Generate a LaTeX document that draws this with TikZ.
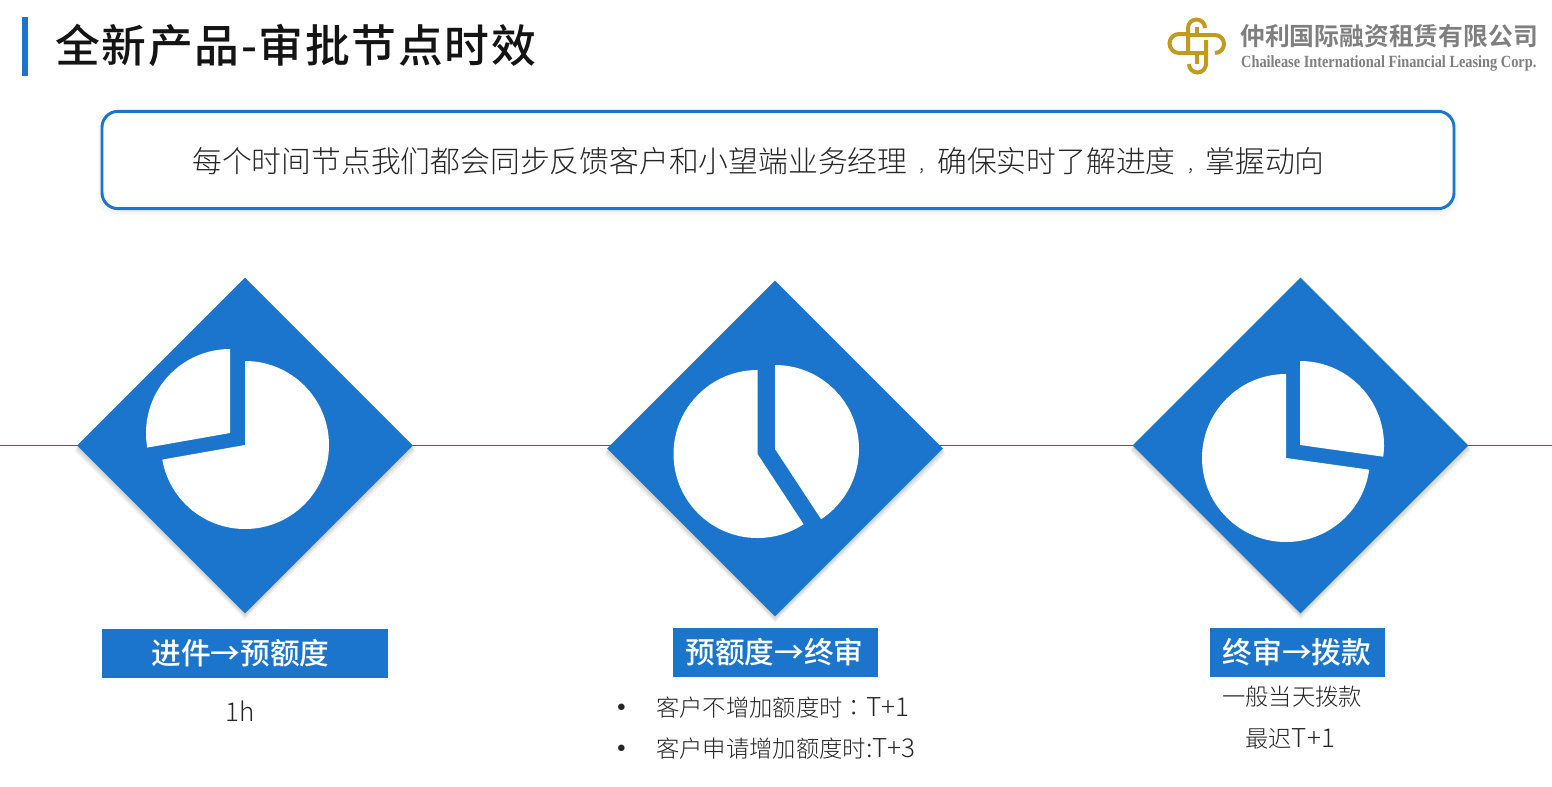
\documentclass[tikz,border=0pt]{standalone}
\usepackage{fontspec}
\setmainfont{Noto Sans CJK SC}
\newfontfamily\lightf{Noto Sans CJK SC Light}
\newfontfamily\lighttc{Noto Sans CJK TC Light}
\newfontfamily\boldf{Noto Sans CJK SC Bold}
\newfontfamily\medf{Noto Sans CJK SC Medium}
\newfontfamily\titlef[LetterSpace=3.7]{Noto Sans CJK SC Medium}
\newfontfamily\serifn{Liberation Serif}
\definecolor{cblue}{HTML}{1C75CD}
\definecolor{cline}{HTML}{1C68C0}
\definecolor{cgold}{HTML}{C19A1E}
\definecolor{cgray}{HTML}{7F7F7F}
\definecolor{cink}{HTML}{262626}
\newcommand{\lat}[1]{{\fontsize{19.5pt}{22pt}\selectfont #1}}
\newcommand{\fwcomma}{\makebox[1em][c]{\raisebox{1.5pt}{\fontsize{15pt}{15pt}\selectfont ,}}}
\newcommand{\fwcolon}{{\lighttc\symbol{"FF1A}}}
\tikzset{
  px/.style={x=0.75pt,y=-0.75pt},
  bluefill/.style={fill=cblue,draw=none},
  pie/.style={fill=white,draw=none},
  flowline/.style={draw=cline,line width=1pt},
  labbox/.style={fill=cblue,inner sep=0pt,anchor=center,minimum height=37pt},
  lab/.style={text=white,inner sep=0pt,font=\medf\fontsize{22.3pt}{26pt}\selectfont,anchor=center},
  body/.style={inner sep=0pt,text=cink,font=\lightf\fontsize{17.5pt}{22pt}\selectfont},
  hook/.style={draw=cgold,line width=3pt},
}
\newcommand{\diam}[3]{%
  \foreach \s in {1,...,6}{
    \fill[black,opacity=0.03] (#1,#2-168+\s) -- (#1+168+\s*0.4,#2+\s) -- (#1,#2+168+\s) -- (#1-168-\s*0.4,#2+\s) -- cycle;
  }
  \node[bluefill,diamond,minimum width=252pt,minimum height=252pt,inner sep=0pt] (#3) at (#1,#2) {};
}
\usetikzlibrary{shapes.geometric}
\begin{document}
\begin{tikzpicture}[px]
\useasboundingbox (0,0) rectangle (1552,786);
\fill[white] (0,0) rectangle (1552,786);
% title
\fill[cblue] (22,17) rectangle (28,76);
\node[anchor=base west,inner sep=0pt,text=black!92] (title) at (55,62) {\titlef\fontsize{33.6pt}{36pt}\selectfont 全新产品-审批节点时效};
% logo
\draw[hook] (1205,28) arc (0:-180:8.5) -- (1188,52);
\draw[hook] (1189,64) arc (-180:-360:8.5) -- (1206,40);
\draw[hook] (1190,35) -- (1215,35) arc (-90:90:9) ;
\draw[hook] (1204,53) -- (1179,53) arc (90:270:9.5) -- (1186,34);
\draw[hook] (1197,27) -- (1197,35);
\draw[hook] (1197,53) -- (1197,64);
\node[anchor=base west,inner sep=0pt,text=cgray] (logocn) at (1240,45) {\boldf\fontsize{18.6pt}{20pt}\selectfont 仲利国际融资租赁有限公司};
\node[anchor=base west,inner sep=0pt,text=cgray,xscale=0.84] (logoen) at (1241,67) {\serifn\bfseries\fontsize{12.8pt}{14pt}\selectfont Chailease International Financial Leasing Corp.};
% banner
\foreach \s in {1,...,5}{
  \fill[black,opacity=0.012,rounded corners=14pt] (102-\s,111-\s+3) rectangle (1454+\s,208+\s+3);
}
\node[draw=cblue,line width=2.2pt,fill=white,rounded corners=12pt,minimum width=1014pt,minimum height=73pt,inner sep=0pt] (banner) at (778,160) {};
\node[anchor=base west,inner sep=0pt,text=cink] (bannertext) at (192,172) {\lightf\fontsize{22.35pt}{26pt}\selectfont 每个时间节点我们都会同步反馈客户和小望端业务经理\fwcomma 确保实时了解进度\fwcomma 掌握动向};
% line
\coordinate (L) at (0,445.5);
\coordinate (R) at (1552,445.5);
\draw[flowline] (L) -- (R);
% diamonds
\diam{245}{445.5}{d1}
\diam{775}{448.5}{d2}
\diam{1300.5}{445.5}{d3}
% pies
\fill[pie] (245,445) -- (245,361) arc (-90:170:84) -- cycle;
\fill[pie] (230,433) -- (230,349) arc (-90:-190:84) -- cycle;
\fill[pie] (757.5,454) -- (757.5,370) arc (-90:-303.3:84) -- cycle;
\fill[pie] (775,449) -- (775,365) arc (-90:56.7:84) -- cycle;
\fill[pie] (1286,458) -- (1286,374) arc (-90:-352:84) -- cycle;
\fill[pie] (1300,445) -- (1300,361) arc (-90:8:84) -- cycle;
% labels
\node[labbox,minimum width=214.5pt] (l1box) at (245,653.5) {};
\node[lab] (l1) at (240.5,653.5) {进件→预额度};
\node[labbox,minimum width=154pt] (l2box) at (775.5,652.5) {};
\node[lab] (l2) at (774.5,652.5) {预额度→终审};
\node[labbox,minimum width=131pt] (l3box) at (1297.5,652.5) {};
\node[lab] (l3) at (1297,652.5) {终审→拨款};
% body
\node[body,anchor=base west] (t1) at (225,721) {\lat{1h}};
\node[body,anchor=base] (b1) at (622,720) {\fontsize{26pt}{26pt}\selectfont \textbullet};
\node[body,anchor=base west] (t2) at (656,716) {客户不增加额度时\fwcolon\lat{T+1}};
\node[body,anchor=base] (b2) at (622,761) {\fontsize{26pt}{26pt}\selectfont \textbullet};
\node[body,anchor=base west] (t3) at (656,757) {客户申请增加额度时\lat{:T+3}};
\node[body,anchor=base west] (t4) at (1222,705) {一般当天拨款};
\node[body,anchor=base west] (t5) at (1245,747) {最迟\lat{T+1}};
\end{tikzpicture}
\end{document}
